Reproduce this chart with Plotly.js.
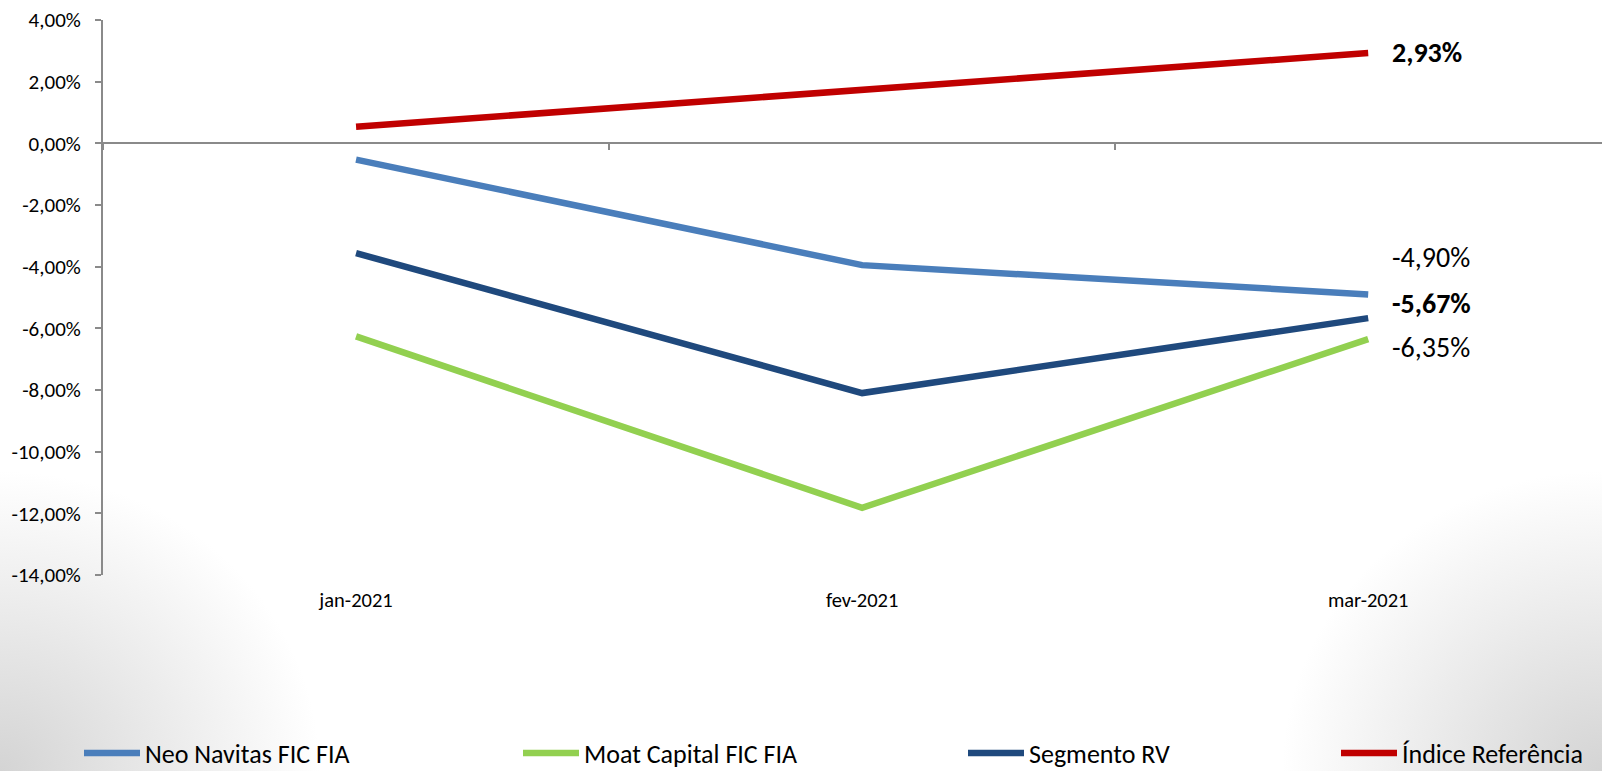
<!DOCTYPE html>
<html>
<head>
<meta charset="utf-8">
<script src="https://cdn.plot.ly/plotly-3.0.1.min.js"></script>
<style>
  html, body { margin: 0; padding: 0; }
  body {
    width: 1602px; height: 771px; overflow: hidden;
    background:
      radial-gradient(ellipse 320px 300px at 0% 100%, rgba(212,212,212,1) 0%, rgba(255,255,255,0) 100%),
      radial-gradient(ellipse 320px 300px at 100% 100%, rgba(212,212,212,1) 0%, rgba(255,255,255,0) 100%),
      #ffffff;
  }
  #chart { width: 1602px; height: 771px; }
</style>
</head>
<body>
<div id="chart"></div>
<script>
// ---- data ----
const categories = ['jan-2021', 'fev-2021', 'mar-2021'];
const seriesNames = ['Neo Navitas FIC FIA', 'Moat Capital FIC FIA', 'Segmento RV', 'Índice Referência'];
const neoNavitas = [-0.53, -3.95, -4.90];
const moatCapital = [-6.26, -11.82, -6.35];
const segmentoRV = [-3.56, -8.10, -5.67];
const indiceRef = [0.54, 1.72, 2.93];
const yTickValues = [4, 2, 0, -2, -4, -6, -8, -10, -12, -14];

// ---- styles ----
const colors = ['#4A7EBB', '#92D050', '#1F497D', '#C00000'];
const boldLabel = [false, false, true, true];
const labelYShift = [37, -8, 15, 0]; // neo, moat, seg, idx
const legendX = [79, 518, 963, 1336];  // px, container
const legendIds = ['legend', 'legend2', 'legend3', 'legend4'];
const FONT = 'Carlito, "Liberation Sans Narrow", "Open Sans", sans-serif';

const fmt = v => v.toFixed(2).replace('.', ',') + '%';

const allSeries = [neoNavitas, moatCapital, segmentoRV, indiceRef];

const traces = allSeries.map((vals, i) => ({
  type: 'scatter',
  mode: 'lines',
  name: seriesNames[i],
  x: categories,
  y: vals,
  legend: legendIds[i],
  line: { color: colors[i], width: 6.5 },
  hoverinfo: 'skip'
}));

const last = categories.length - 1;
const annotations = allSeries.map((vals, i) => ({
  x: categories[last],
  y: vals[last],
  xref: 'x', yref: 'y',
  text: boldLabel[i] ? '<b>' + fmt(vals[last]) + '</b>' : fmt(vals[last]),
  showarrow: false,
  xanchor: 'left',
  yanchor: 'middle',
  xshift: 22,
  yshift: labelYShift[i],
  font: { family: FONT, size: 28, color: '#000' }
}));

const legendStyle = x => ({
  orientation: 'h',
  xref: 'container',
  yref: 'container',
  x: x / 1602,
  xanchor: 'left',
  y: 18 / 771,
  yanchor: 'middle',
  itemwidth: 56,
  font: { family: FONT, size: 26, color: '#000' },
  bgcolor: 'rgba(0,0,0,0)'
});

const layout = {
  width: 1602,
  height: 771,
  margin: { l: 103, r: 0, t: 20, b: 196 },
  paper_bgcolor: 'rgba(0,0,0,0)',
  plot_bgcolor: 'rgba(0,0,0,0)',
  showlegend: true,
  xaxis: {
    type: 'category',
    range: [-0.5, 2.462],
    anchor: 'free',
    position: 14 / 18,
    showline: true,
    linecolor: '#8a8a8a',
    linewidth: 2,
    ticks: 'outside',
    tickson: 'boundaries',
    ticklen: 6,
    tickwidth: 2,
    tickcolor: '#8a8a8a',
    showgrid: false,
    zeroline: false,
    ticklabelstandoff: 438,
    tickfont: { family: FONT, size: 20.5, color: '#000' },
    fixedrange: true
  },
  yaxis: {
    range: [-14, 4],
    tickvals: yTickValues,
    ticktext: yTickValues.map(fmt),
    showline: true,
    linecolor: '#8a8a8a',
    linewidth: 2,
    ticks: 'outside',
    ticklen: 6,
    tickwidth: 2,
    tickcolor: '#8a8a8a',
    showgrid: false,
    zeroline: false,
    ticklabelstandoff: 10,
    tickfont: { family: FONT, size: 21, color: '#000' },
    fixedrange: true
  },
  annotations: annotations
};
legendIds.forEach((id, i) => { layout[id] = legendStyle(legendX[i]); });

Plotly.newPlot('chart', traces, layout, { displayModeBar: false, staticPlot: true });
</script>
</body>
</html>
